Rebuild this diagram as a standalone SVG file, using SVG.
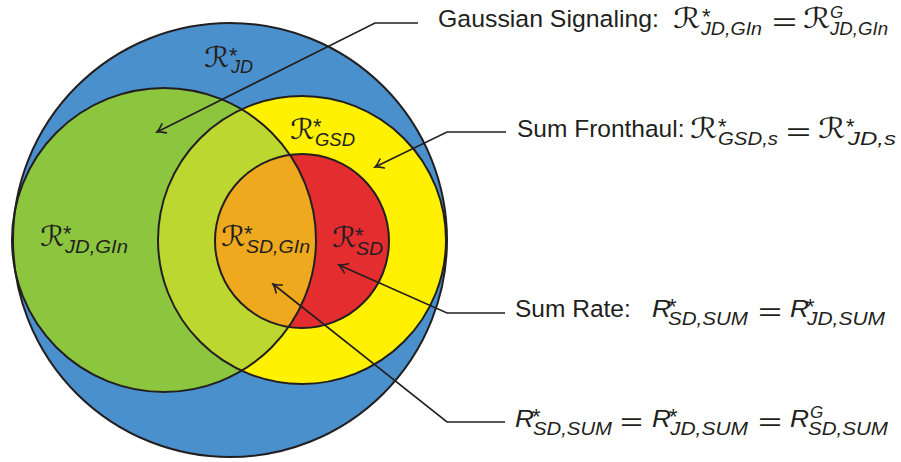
<svg xmlns="http://www.w3.org/2000/svg" width="901" height="462" viewBox="0 0 901 462">
<style>
.fill{stroke:none}
.outline{fill:none;stroke:#231f20;stroke-width:2}
.conn{fill:none;stroke:#231f20;stroke-width:1.6}
text{fill:#231f20;font-family:"Liberation Sans","DejaVu Sans",sans-serif;font-size:24.5px}
.cal{font-family:"DejaVu Sans",sans-serif;font-size:28px}
.it{font-style:italic;font-size:24.5px}
.sub{font-style:italic;font-size:19px}
.star{font-size:22px}
.supg{font-style:italic;font-size:17px}
</style>
<defs>
<clipPath id="clipGreen"><circle cx="164" cy="240" r="152"/></clipPath>
<marker id="arr" viewBox="-10 -6 12 12" refX="0" refY="0" markerWidth="12" markerHeight="12" markerUnits="userSpaceOnUse" orient="auto">
<path d="M-8,-5 Q-3,-1 0,0 Q-3,1 -8,5" fill="none" stroke="#231f20" stroke-width="1.6" stroke-linecap="round"/>
</marker>
</defs>

<g id="region-jd">
<circle class="fill" cx="230" cy="240" r="217" fill="#4a90cd"/>
</g>
<g id="region-jd-gin">
<circle class="fill" cx="164" cy="240" r="152" fill="#8cc63f"/>
</g>
<g id="region-gsd">
<circle class="fill" cx="302" cy="240" r="144" fill="#fff100"/>
<circle class="fill" cx="302" cy="240" r="144" fill="#bdd731" clip-path="url(#clipGreen)"/>
</g>
<g id="region-sd">
<circle class="fill" cx="302" cy="241" r="87" fill="#e42d2f"/>
<circle class="fill" cx="302" cy="241" r="87" fill="#eea91f" clip-path="url(#clipGreen)"/>
</g>
<g id="outlines">
<circle class="outline" cx="230" cy="240" r="217"/>
<circle class="outline" cx="164" cy="240" r="152"/>
<circle class="outline" cx="302" cy="240" r="144"/>
<circle class="outline" cx="302" cy="241" r="87"/>
</g>

<g id="label-jd">
<text><tspan class="cal" x="204" y="67" textLength="25" lengthAdjust="spacingAndGlyphs">ℛ</tspan><tspan class="star" x="229" y="63">*</tspan><tspan class="sub" x="231" y="73" textLength="22" lengthAdjust="spacingAndGlyphs">JD</tspan></text>
</g>
<g id="label-gsd">
<text><tspan class="cal" x="290" y="139" textLength="24" lengthAdjust="spacingAndGlyphs">ℛ</tspan><tspan class="star" x="313" y="134">*</tspan><tspan class="sub" x="315" y="146" textLength="40" lengthAdjust="spacingAndGlyphs">GSD</tspan></text>
</g>
<g id="label-jd-gin">
<text><tspan class="cal" x="40" y="246" textLength="24" lengthAdjust="spacingAndGlyphs">ℛ</tspan><tspan class="star" x="63" y="241">*</tspan><tspan class="sub" x="65" y="253" textLength="63" lengthAdjust="spacingAndGlyphs">JD,GIn</tspan></text>
</g>
<g id="label-sd-gin">
<text><tspan class="cal" x="221" y="246" textLength="24" lengthAdjust="spacingAndGlyphs">ℛ</tspan><tspan class="star" x="244" y="241">*</tspan><tspan class="sub" x="246" y="253" textLength="64" lengthAdjust="spacingAndGlyphs">SD,GIn</tspan></text>
</g>
<g id="label-sd">
<text><tspan class="cal" x="332" y="247" textLength="24" lengthAdjust="spacingAndGlyphs">ℛ</tspan><tspan class="star" x="355" y="243">*</tspan><tspan class="sub" x="356" y="255" textLength="27" lengthAdjust="spacingAndGlyphs">SD</tspan></text>
</g>

<g id="connectors">
<path class="conn" d="M418,23 H375 L157,132" marker-end="url(#arr)"/>
<path class="conn" d="M506,132 H447 L375,167" marker-end="url(#arr)"/>
<path class="conn" d="M505,313 H447 L339,265" marker-end="url(#arr)"/>
<path class="conn" d="M505,422 H447 L273,284" marker-end="url(#arr)"/>
</g>

<g id="annot-gaussian">
<text><tspan x="438" y="27" textLength="221" lengthAdjust="spacingAndGlyphs">Gaussian Signaling:</tspan><tspan class="cal" x="673" y="28" textLength="27" lengthAdjust="spacingAndGlyphs">ℛ</tspan><tspan class="star" x="702" y="24">*</tspan><tspan class="sub" x="701" y="35" textLength="61" lengthAdjust="spacingAndGlyphs">JD,GIn</tspan><tspan x="772" y="30" textLength="25" lengthAdjust="spacingAndGlyphs">=</tspan><tspan class="cal" x="803" y="28" textLength="27" lengthAdjust="spacingAndGlyphs">ℛ</tspan><tspan class="supg" x="830" y="18">G</tspan><tspan class="sub" x="830" y="35" textLength="58" lengthAdjust="spacingAndGlyphs">JD,GIn</tspan></text>
</g>
<g id="annot-fronthaul">
<text><tspan x="517" y="137">Sum Fronthaul:</tspan><tspan class="cal" x="690" y="138" textLength="27" lengthAdjust="spacingAndGlyphs">ℛ</tspan><tspan class="star" x="718" y="134">*</tspan><tspan class="sub" x="718" y="145" textLength="60" lengthAdjust="spacingAndGlyphs">GSD,s</tspan><tspan x="786" y="140" textLength="25" lengthAdjust="spacingAndGlyphs">=</tspan><tspan class="cal" x="818" y="138" textLength="27" lengthAdjust="spacingAndGlyphs">ℛ</tspan><tspan class="star" x="846" y="134">*</tspan><tspan class="sub" x="848" y="145" textLength="48" lengthAdjust="spacingAndGlyphs">JD,s</tspan></text>
</g>
<g id="annot-sumrate">
<text><tspan x="515" y="317">Sum Rate:</tspan><tspan class="it" x="652" y="317" textLength="19" lengthAdjust="spacingAndGlyphs">R</tspan><tspan class="star" x="668" y="314">*</tspan><tspan class="sub" x="668" y="325" textLength="80" lengthAdjust="spacingAndGlyphs">SD,SUM</tspan><tspan x="758" y="320" textLength="24" lengthAdjust="spacingAndGlyphs">=</tspan><tspan class="it" x="790" y="317" textLength="19" lengthAdjust="spacingAndGlyphs">R</tspan><tspan class="star" x="806" y="314">*</tspan><tspan class="sub" x="807" y="325" textLength="78" lengthAdjust="spacingAndGlyphs">JD,SUM</tspan></text>
</g>
<g id="annot-all">
<text><tspan class="it" x="515" y="427" textLength="19" lengthAdjust="spacingAndGlyphs">R</tspan><tspan class="star" x="532" y="424">*</tspan><tspan class="sub" x="533" y="435" textLength="79" lengthAdjust="spacingAndGlyphs">SD,SUM</tspan><tspan x="620" y="430" textLength="23" lengthAdjust="spacingAndGlyphs">=</tspan><tspan class="it" x="652" y="427" textLength="19" lengthAdjust="spacingAndGlyphs">R</tspan><tspan class="star" x="669" y="424">*</tspan><tspan class="sub" x="670" y="435" textLength="78" lengthAdjust="spacingAndGlyphs">JD,SUM</tspan><tspan x="758" y="430" textLength="24" lengthAdjust="spacingAndGlyphs">=</tspan><tspan class="it" x="790" y="427" textLength="19" lengthAdjust="spacingAndGlyphs">R</tspan><tspan class="supg" x="810" y="418">G</tspan><tspan class="sub" x="808" y="435" textLength="80" lengthAdjust="spacingAndGlyphs">SD,SUM</tspan></text>
</g>
</svg>
